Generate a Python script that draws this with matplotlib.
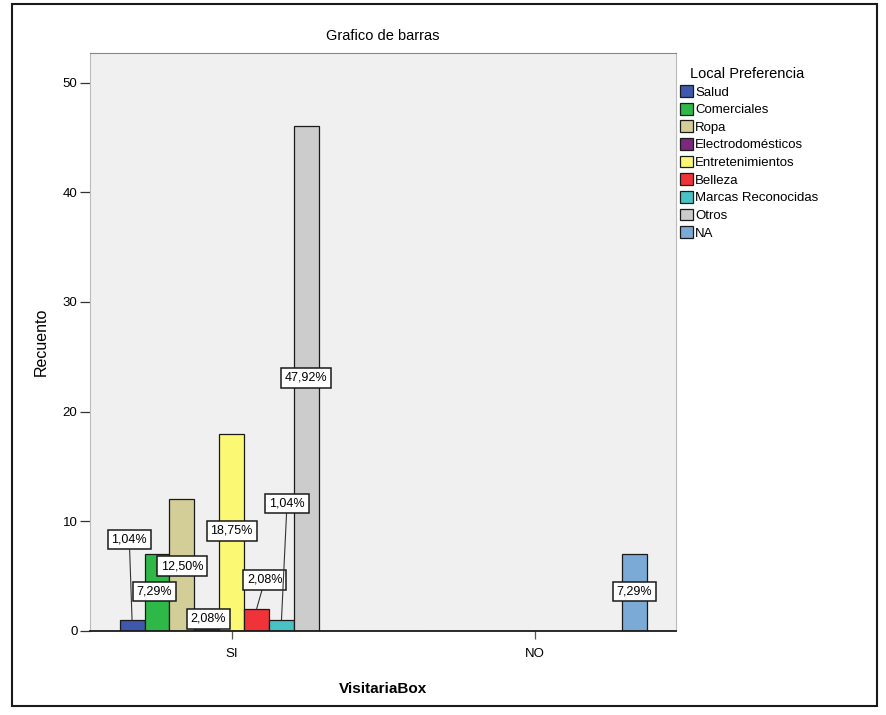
import numpy as np
import matplotlib
matplotlib.use('Agg')
import matplotlib.pyplot as plt
from matplotlib.patches import Rectangle

plt.rcParams['font.family'] = ['Liberation Sans', 'DejaVu Sans']

# data
groups = ['SI', 'NO']
categories = ['Salud', 'Comerciales', 'Ropa', 'Electrodomésticos', 'Entretenimientos',
              'Belleza', 'Marcas Reconocidas', 'Otros', 'NA']
counts_si = [1, 7, 12, 2, 18, 2, 1, 46, 0]
counts_no = [0, 0, 0, 0, 0, 0, 0, 0, 7]
total = 96

# SPSS default palette
colors = ['#3E58AC', '#2EB848', '#D3CE97', '#7C287D', '#FBF873',
          '#EF3338', '#48C2C5', '#CCCCCC', '#7AAAD5']

# label offsets (points) from bar top, per group/category
offsets_si = [(-2, 58), (-2, -27), (0, -48), (1, -7), (0, -70), (6, 21), (4, 84), (0, -181), None]
offsets_no = [None] * 8 + [(0, -27)]

fig = plt.figure(figsize=(8.86, 7.15), dpi=100)
ax = fig.add_axes([0.1016, 0.1175, 0.6614, 0.8085])
ax.set_facecolor('#F0F0F0')

n = len(categories)
w = 0.0821
x = np.arange(len(groups))
for i, cat in enumerate(categories):
    vals = [counts_si[i], counts_no[i]]
    pos = x - w * n / 2 + w * (i + 0.5)
    ax.bar(pos, vals, width=w, color=colors[i], edgecolor='#1a1a1a', linewidth=0.9,
           label=cat, zorder=2)
    for g, (v, off) in enumerate(zip(vals, [offsets_si[i], offsets_no[i]])):
        if v == 0 or off is None:
            continue
        pct = f'{v / total * 100:.2f}%'.replace('.', ',')
        # leader line only when the label sits above the bar
        arrow = None
        if off[1] > 0:
            arrow = dict(arrowstyle='-', color='#333333', lw=0.8, shrinkA=0, shrinkB=0)
        ax.annotate(pct, xy=(pos[g], v), xytext=off, textcoords='offset points',
                    ha='center', va='center', fontsize=9, zorder=5,
                    bbox=dict(boxstyle='square,pad=0.3', fc='white', ec='#1a1a1a', lw=1.1),
                    arrowprops=arrow)

ax.set_xlim(-0.467, 1.465)
ax.set_ylim(0, 52.7)
ax.set_yticks([0, 10, 20, 30, 40, 50])
ax.set_xticks(x)
ax.set_xticklabels(groups)
ax.tick_params(axis='y', length=7, width=0.9, labelsize=9.5, pad=2, color='#333333')
ax.tick_params(axis='x', length=6, width=0.9, labelsize=9.5, pad=6, color='#555555')

for side in ['top', 'left', 'right']:
    ax.spines[side].set_color('#BBBBBB')
ax.spines['top'].set_color('#888888')
ax.spines['bottom'].set_color('#1a1a1a')
ax.spines['bottom'].set_linewidth(1.3)

ax.set_title('Grafico de barras', fontsize=10.5, pad=9)
ax.set_xlabel('VisitariaBox', fontsize=11, fontweight='bold', labelpad=16)
ax.set_ylabel('Recuento', fontsize=11.5, labelpad=10)

leg = ax.legend(loc='upper left', bbox_to_anchor=(0.998, 0.985), title='Local Preferencia',
                frameon=False, fontsize=9.5, title_fontsize=10.5, handlelength=1.0,
                handleheight=1.0, handletextpad=0.15, labelspacing=0.32,
                borderaxespad=0.0, alignment='left')
leg.get_title().set_position((10, 0))

# outer frame
fig.patches.append(Rectangle((12 / 886, 9 / 715), 865 / 886, 702 / 715,
                             transform=fig.transFigure, fill=False,
                             ec='#1a1a1a', lw=1.5))

fig.savefig('out.png', dpi=100)
